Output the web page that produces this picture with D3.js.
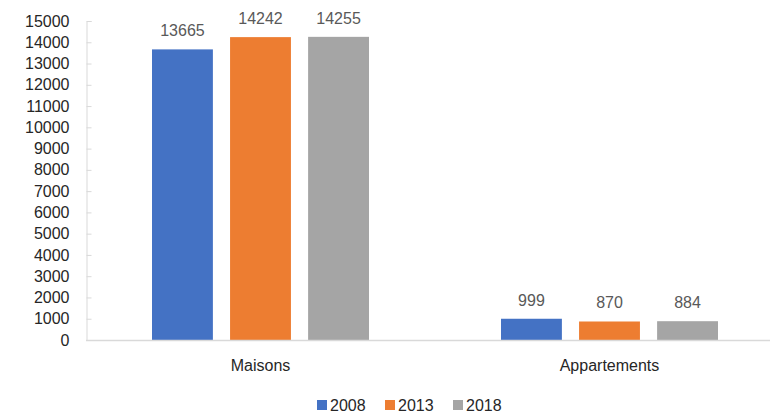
<!DOCTYPE html>
<html>
<head>
<meta charset="utf-8">
<script src="https://cdn.jsdelivr.net/npm/d3@7"></script>
<style>
  body { margin: 0; background: #fff; }
  text { font-family: "Liberation Sans", Arial, sans-serif; }
</style>
</head>
<body>
<div id="chart"></div>
<script>
// data
var categories = ["Maisons", "Appartements"];
var years = ["2008", "2013", "2018"];
var values2008 = [13665, 999];
var values2013 = [14242, 870];
var values2018 = [14255, 884];
var yTicks = d3.range(0, 15001, 1000);
var colors = ["#4472c4", "#ed7d31", "#a5a5a5"];

var series = [values2008, values2013, values2018];

var width = 770, height = 414;

var svg = d3.select("#chart")
  .append("svg")
    .attr("width", width)
    .attr("height", height);

// scales
var x = d3.scaleBand()
  .domain(categories)
  .range([86, 784]);

var x1 = d3.scaleBand()
  .domain(years)
  .range([66, x.bandwidth() - 66])
  .paddingInner(0.22);

var y = d3.scaleLinear()
  .domain([0, 15000])
  .range([340, 21]);

// y axis
var yAxis = svg.append("g")
  .attr("transform", "translate(86.5,0)")
  .call(d3.axisLeft(y).tickValues(yTicks).tickFormat(d3.format("d")).tickSize(-5).tickPadding(17));
yAxis.select(".domain").attr("stroke", "#d9d9d9");
yAxis.selectAll(".tick line").attr("stroke", "#d9d9d9");
yAxis.selectAll(".tick text")
  .style("font-size", "16px")
  .attr("fill", "#262626");

// bars
var groups = svg.append("g")
  .selectAll("g")
  .data(categories)
  .enter()
  .append("g")
    .attr("transform", function (d) { return "translate(" + x(d) + ",0)"; });

years.forEach(function (yr, si) {
  groups.append("rect")
    .attr("x", function (d) { return x1(yr); })
    .attr("y", function (d, i) { return y(series[si][i]); })
    .attr("width", x1.bandwidth())
    .attr("height", function (d, i) { return y(0) - y(series[si][i]); })
    .attr("fill", colors[si]);

  groups.append("text")
    .attr("x", function (d) { return x1(yr) + x1.bandwidth() / 2; })
    .attr("y", function (d, i) { return y(series[si][i]) - 13; })
    .attr("text-anchor", "middle")
    .style("font-size", "16px")
    .attr("fill", "#595959")
    .text(function (d, i) { return series[si][i]; });
});

// x axis baseline
svg.append("line")
  .attr("x1", 86)
  .attr("x2", width)
  .attr("y1", y(0) + 0.5)
  .attr("y2", y(0) + 0.5)
  .attr("stroke", "#d9d9d9")
  .attr("stroke-width", 1.5);

// category labels
svg.append("g")
  .selectAll("text")
  .data(categories)
  .enter()
  .append("text")
    .attr("x", function (d) { return x(d) + x.bandwidth() / 2; })
    .attr("y", 371)
    .attr("text-anchor", "middle")
    .style("font-size", "16px")
    .attr("fill", "#262626")
    .text(function (d) { return d; });

// legend
var legend = svg.append("g")
  .selectAll("g")
  .data(years)
  .enter()
  .append("g")
    .attr("transform", function (d, i) { return "translate(" + (317 + i * 68) + ",400)"; });

legend.append("rect")
  .attr("width", 10)
  .attr("height", 10)
  .attr("fill", function (d, i) { return colors[i]; });

legend.append("text")
  .attr("x", 13)
  .attr("y", 11)
  .style("font-size", "16px")
  .attr("fill", "#262626")
  .text(function (d) { return d; });
</script>
</body>
</html>
